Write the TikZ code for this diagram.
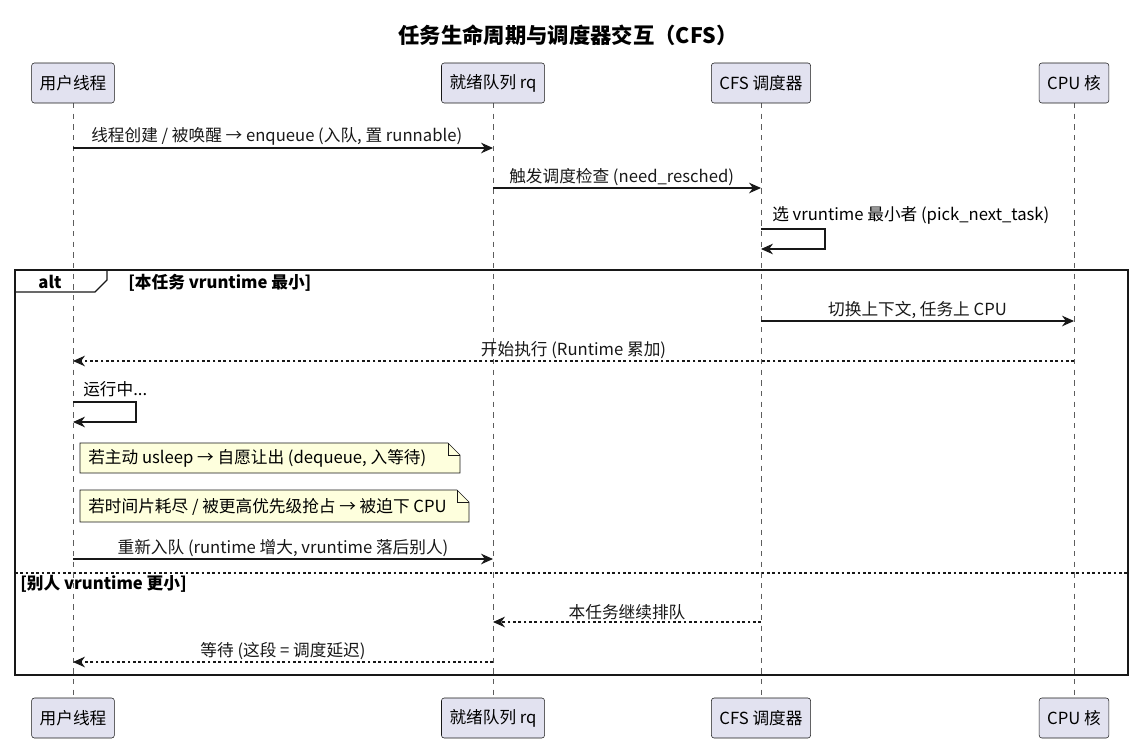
\documentclass[tikz,border=0pt]{standalone}
\usepackage{fontspec}
\setmainfont{Noto Sans CJK SC}
\usetikzlibrary{arrows.meta,positioning,calc,shapes.geometric}
\definecolor{partfill}{HTML}{E2E2F0}
\definecolor{notefill}{HTML}{FEFFDD}
\definecolor{edge}{HTML}{181818}

\begin{document}
\begin{tikzpicture}[x=0.75pt, y=-0.75pt, >={Stealth[length=9pt,width=8pt]},
   every node/.style={font=\fontsize{12.5}{14}\selectfont},
   part/.style={draw=edge, fill=partfill, rounded corners=2pt, minimum height=30pt, inner xsep=6pt},
   msg/.style={->, edge, line width=0.8pt},
   reply/.style={msg, dash pattern=on 2pt off 2pt},
   life/.style={draw=edge!70, dash pattern=on 4pt off 4pt, line width=0.5pt},
   lbl/.style={above, inner sep=1.5pt},
   note/.style={draw=edge, fill=notefill, line width=0.5pt}]
  \useasboundingbox (0,0) rectangle (1137,746);

  \node[font=\fontsize{16}{18}\selectfont\bfseries] (title) at (568,35) {任务生命周期与调度器交互（CFS）};

  % participants
  \foreach \n/\x/\t in {user/73/用户线程, rq/493/就绪队列 rq, cfs/761/CFS 调度器, cpu/1074/CPU 核} {
    \draw[life] (\x,103) -- (\x,698);
    \node[part] (\n top) at (\x,83) {\t};
    \node[part] (\n bot) at (\x,718) {\t};
  }

  % message points
  \coordinate (u1) at (73,148);  \coordinate (r1) at (493,148);
  \coordinate (r2) at (493,188); \coordinate (c2) at (761,188);
  \coordinate (c3) at (761,229); \coordinate (c3b) at (761,249);
  \coordinate (c4) at (761,321); \coordinate (p4) at (1074,321);
  \coordinate (p5) at (1074,361); \coordinate (u5) at (73,361);
  \coordinate (u6) at (73,402); \coordinate (u6b) at (73,422);
  \coordinate (u7) at (73,559); \coordinate (r7) at (493,559);
  \coordinate (c8) at (761,622); \coordinate (r8) at (493,622);
  \coordinate (r9) at (493,662); \coordinate (u9) at (73,662);

  \draw[msg] (u1) -- (r1) node[lbl, pos=0.485] {线程创建 / 被唤醒 → enqueue (入队, 置 runnable)};
  \draw[msg] (r2) -- (c2) node[lbl, pos=0.48] {触发调度检查 (need\_resched)};
  \draw[msg] (c3) -- ++(64,0) |- (c3b);
  \node[right, inner sep=0pt] at (772,215) {选 vruntime 最小者 (pick\_next\_task)};

  % alt frame
  \draw[edge, line width=1.3pt] (15,270) rectangle (1128,675);
  \draw[edge, line width=1pt] (15,292) -- (95,292) -- (107,280) -- (107,270);
  \node[font=\fontsize{12.5}{14}\selectfont\bfseries] at (50,282) {alt};
  \node[right, inner sep=0pt, font=\fontsize{12.5}{14}\selectfont\bfseries] at (128,283) {[本任务 vruntime 最小]};

  \draw[msg] (c4) -- (p4) node[lbl, pos=0.5] {切换上下文, 任务上 CPU};
  \draw[reply] (p5) -- (u5) node[lbl, pos=0.5] {开始执行 (Runtime 累加)};
  \draw[msg] (u6) -- ++(63,0) |- (u6b);
  \node[right, inner sep=0pt] at (83,389) {运行中...};

  % notes
  \draw[note] (80,443) -- (448,443) -- (460,455) -- (460,473) -- (80,473) -- cycle;
  \draw[edge, line width=0.5pt] (448,443) |- (460,455);
  \node[right, inner sep=0pt] at (88,458) {若主动 usleep → 自愿让出 (dequeue, 入等待)};
  \draw[note] (80,490) -- (457,490) -- (469,502) -- (469,522) -- (80,522) -- cycle;
  \draw[edge, line width=0.5pt] (457,490) |- (469,502);
  \node[right, inner sep=0pt] at (88,507) {若时间片耗尽 / 被更高优先级抢占 → 被迫下 CPU};

  \draw[msg] (u7) -- (r7) node[lbl, pos=0.5] {重新入队 (runtime 增大, vruntime 落后别人)};

  % else
  \draw[edge, line width=0.8pt, dash pattern=on 2pt off 2pt] (15,573) -- (1128,573);
  \node[right, inner sep=0pt, font=\fontsize{12.5}{14}\selectfont\bfseries] at (20,584) {[别人 vruntime 更小]};

  \draw[reply] (c8) -- (r8) node[lbl, pos=0.5] {本任务继续排队};
  \draw[reply] (r9) -- (u9) node[lbl, pos=0.5] {等待 (这段 = 调度延迟)};
\end{tikzpicture}
\end{document}
